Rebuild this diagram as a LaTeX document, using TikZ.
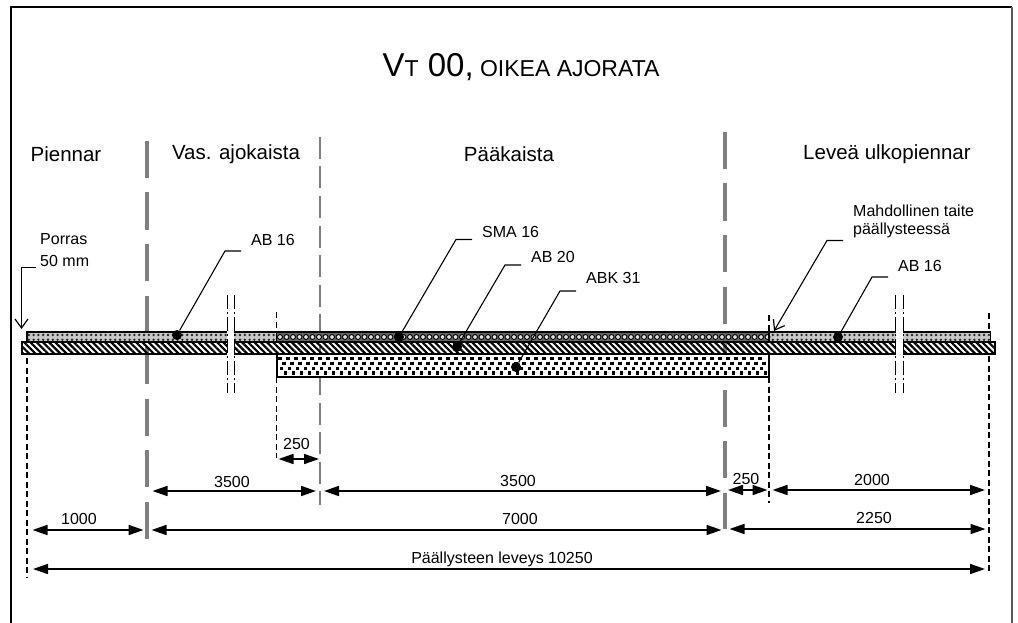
\documentclass[tikz,border=0pt]{standalone}
\usepackage{fontspec}
\setmainfont{Liberation Sans}
\usetikzlibrary{arrows.meta}
\usetikzlibrary{patterns.meta}

\tikzset{
  lbl/.style={inner sep=0pt,font=\fontsize{16}{18}\selectfont},
  head/.style={inner sep=0pt,font=\fontsize{20.5}{22}\selectfont},
  spot/.style={circle,fill=black,inner sep=0pt,minimum size=10pt},
  axisthick/.style={draw=black!50,line width=4.4pt},
  axisthin/.style={draw=black!50,line width=2.8pt,dash pattern=on 22pt off 7.5pt},
  edge/.style={line width=1.8pt,dash pattern=on 6pt off 3.5pt},
  cutline/.style={line width=.9pt,dash pattern=on 14pt off 3pt on 2pt off 3pt},
  leader/.style={line width=1.1pt},
  barb/.style={-{Straight Barb[length=9pt,width=13pt,line width=1.2pt]}},
  dim/.style={line width=1.6pt,{Triangle[length=15pt,width=10pt]}-{Triangle[length=15pt,width=10pt]}}
}

\begin{document}
\begin{tikzpicture}[x=1pt,y=-1pt]
  \useasboundingbox (0,0) rectangle (1018,623);
  \draw[line width=1.6pt] (11,623) -- (11,7) -- (1012,7);
  \draw[line width=1.8pt,black!65] (1012,7) -- (1012,623);

  \node[inner sep=0pt] (title) at (521,67) {\fontsize{33}{33}\selectfont V\fontsize{23}{23}\selectfont T\fontsize{33}{33}\selectfont{} 00,\fontsize{23}{23}\selectfont{} OIKEA AJORATA};
  \node[head] (piennar) at (66,154) {Piennar};
  \node[head] (vas) at (236,154) {Vas. ajokaista};
  \node[head] (paa) at (509,154) {Pääkaista};
  \node[head] (ulko) at (887,154) {Leveä ulkopiennar};

  % kaistaviivat
  \foreach \x/\top/\bot in {147/141/539,725/132/529}
    \draw[axisthick,dash pattern=on 37.3pt off 14.2pt] (\x,\top) -- (\x,\bot);
  \draw[axisthin] (320,137) -- (320,505);

  % kerrokset
  \fill[black!22] (27,332) rectangle (276.5,342);
  \fill[pattern={Dots[radius=1.3pt,distance=4.8pt]},pattern color=black!85] (27,332) rectangle (276.5,342);
  \fill[black!22] (769,332) rectangle (990.5,342);
  \fill[pattern={Dots[radius=1.3pt,distance=4.8pt]},pattern color=black!85] (769,332) rectangle (990.5,342);
  \fill[black!60] (276.5,332) rectangle (769,342);
  \foreach \x in {0,...,75}
    \draw[line width=.9pt,black,fill=black!12] (280+6.5*\x,337) circle (2.5pt);
  \draw[line width=1.5pt] (27,332) rectangle (990.5,342);
  \draw[line width=1.5pt] (276.5,332) -- (276.5,342) (769,332) -- (769,342);

  \path[pattern={Lines[angle=-45,distance=4.4pt,line width=2.2pt]}] (22,342) rectangle (995,354);
  \draw[line width=2pt] (22,342) rectangle (995,354);

  \fill[white] (276.5,354) rectangle (769,376.5);
  \foreach \y/\shift in {358.5/1,363.5/5,368.5/2.5,373/6.5}
    \foreach \x in {0,...,60}
      \fill (279+\shift+8*\x-1.6,\y-1.6) rectangle ++(3.2,3.2);
  \draw[line width=2pt] (276.5,354) rectangle (769,376.5);

  % katkaisut
  \foreach \x in {230.5,899}
    \fill[white] (\x-3.5,331) rectangle (\x+3.5,355.5);
  \foreach \x in {227,234,895.5,903}
    \draw[cutline] (\x,295) -- (\x,393);

  % reunat
  \draw[edge] (27,358) -- (27,577);
  \draw[edge] (276.5,312) -- (276.5,332) (276.5,377) -- (276.5,458);
  \draw[edge] (769,315) -- (769,332) (769,377) -- (769,503);
  \draw[edge] (989,313) -- (989,332) (989,356) -- (989,572);

  % merkinnat
  \node[lbl,anchor=west] (porras) at (40,239) {Porras};
  \node[lbl,anchor=west] (mm) at (40,261) {50 mm};
  \coordinate (pa) at (36,267.5);
  \coordinate (pb) at (21.5,267.5);
  \coordinate (pe) at (21.5,329);
  \draw[leader,barb] (pa) -- (pb) -- (pe);

  \node[lbl,anchor=west] (ab1) at (251,240) {AB 16};
  \node[lbl,anchor=west] (sma) at (482,232) {SMA 16};
  \node[lbl,anchor=west] (ab2) at (531,257) {AB 20};
  \node[lbl,anchor=west] (abk) at (586,278) {ABK 31};
  \node[lbl,anchor=west] (ab3) at (898,266) {AB 16};
  \node[lbl,anchor=west,align=left] (taite) at (853,221) {Mahdollinen taite\\päällysteessä};

  \node[spot] (s1) at (177,335) {};
  \node[spot] (s2) at (399,337) {};
  \node[spot] (s3) at (457,347) {};
  \node[spot] (s4) at (516,367) {};
  \node[spot] (s5) at (838,337) {};

  \foreach \s/\xa/\xb/\y in {s1/241/225/251,s2/472/456/239.5,s3/521/505/265,s4/576/560/291,s5/888/872/277}
    \draw[leader] (\xa,\y) -- (\xb,\y) -- (\s);
  \coordinate (ta) at (843,240.5);
  \coordinate (tb) at (827,240.5);
  \coordinate (te) at (774,331);
  \draw[leader,barb] (ta) -- (tb) -- (te);

  % mitat
  \coordinate (a1) at (278.5,459);  \coordinate (a2) at (319,459);
  \coordinate (b1) at (152.5,491);  \coordinate (b2) at (316,491);
  \coordinate (c1) at (324,491);    \coordinate (c2) at (721,491);
  \coordinate (d1) at (728,490);    \coordinate (d2) at (767.5,490);
  \coordinate (e1) at (772.5,490);  \coordinate (e2) at (985,490);
  \coordinate (f1) at (32.5,530);   \coordinate (f2) at (143.5,530);
  \coordinate (g1) at (151.5,530);  \coordinate (g2) at (721.5,530);
  \coordinate (h1) at (729.5,529);  \coordinate (h2) at (985.5,529);
  \coordinate (i1) at (33,569);     \coordinate (i2) at (985,569);

  \foreach \from/\to in {a1/a2,b1/b2,c1/c2,d1/d2,e1/e2,f1/f2,g1/g2,h1/h2,i1/i2}
    \draw[dim] (\from) -- (\to);

  \node[lbl] (m1) at (296.5,444) {250};
  \node[lbl] (m2) at (232,482) {3500};
  \node[lbl] (m3) at (518,481) {3500};
  \node[lbl] (m4) at (746,479) {250};
  \node[lbl] (m5) at (872,480) {2000};
  \node[lbl] (m6) at (79,519) {1000};
  \node[lbl] (m7) at (520,519) {7000};
  \node[lbl] (m8) at (874,518) {2250};
  \node[lbl] (m9) at (502,559) {Päällysteen leveys 10250};
\end{tikzpicture}
\end{document}
